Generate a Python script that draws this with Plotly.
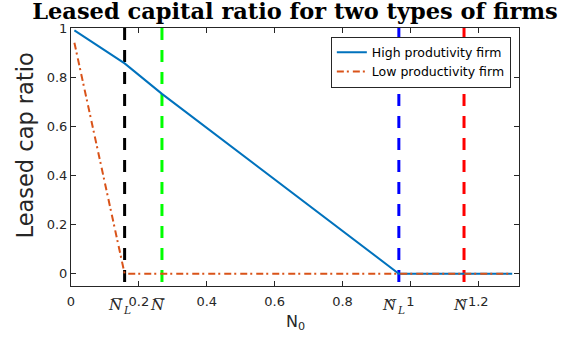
import plotly.graph_objects as go

# ---- data ----
x_high = [0.01, 0.158, 0.268, 0.966, 1.30]
y_high = [0.99, 0.856, 0.732, 0.0, 0.0]
x_low = [0.01, 0.158, 1.30]
y_low = [0.94, 0.0, 0.0]

vline_x = [0.158, 0.268, 0.966, 1.158]
vline_colors = ["#000000", "#00FF00", "#0000FF", "#FF0000"]
vline_sub = ["L", "", "L", ""]
vline_accent = ["bar", "bar", "hat", "hat"]

y_lim = [-0.05, 1.0]
x_lim = [0.0, 1.32]

x_ticks = [0, 0.2, 0.4, 0.6, 0.8, 1.0, 1.2]
x_ticktext = ["0", "0.2", "0.4", "0.6", "0.8", "1", "1.2"]
y_ticks = [0, 0.2, 0.4, 0.6, 0.8, 1]
y_ticktext = ["0", "0.2", "0.4", "0.6", "0.8", "1"]

W, H = 573, 345
L_M, R_M, T_M, B_M = 71, 54, 28, 59
plot_h = H - T_M - B_M


def py(pix):  # window pixel row -> paper y
    return (H - B_M - pix) / plot_h


fig = go.Figure()

for vx, vc in zip(vline_x, vline_colors):
    fig.add_trace(go.Scatter(
        x=[vx, vx], y=[y_lim[1], y_lim[0]], mode="lines",
        line=dict(color=vc, width=3, dash="12px,10px"),
        showlegend=False, hoverinfo="skip"))

fig.add_trace(go.Scatter(
    x=x_high, y=y_high, mode="lines", name="High produtivity firm",
    line=dict(color="#0072BD", width=2)))
fig.add_trace(go.Scatter(
    x=x_low, y=y_low, mode="lines", name="Low productivity firm",
    line=dict(color="#D95319", width=2, dash="7px,3px,2px,4px")))

axis_common = dict(
    showgrid=False, zeroline=False, showline=True, linecolor="#262626",
    linewidth=1, mirror="ticks", ticks="inside", ticklen=5, tickcolor="#262626",
    tickangle=0,
    tickfont=dict(family="DejaVu Sans", size=13, color="#262626"),
)

annotations = [
    dict(text="Leased cap ratio", textangle=-90, x=(24 - L_M) / (W - L_M - R_M),
         y=py(145.5), xref="paper", yref="paper",
         xanchor="center", yanchor="middle", showarrow=False,
         font=dict(family="DejaVu Sans", size=22.5, color="#262626")),
    dict(text="N<sub>0</sub>", x=0.5, y=py(322),
         xref="paper", yref="paper", xanchor="center", yanchor="middle",
         showarrow=False,
         font=dict(family="DejaVu Sans", size=16, color="#262626")),
]

serif = "DejaVu Serif"
for vx, sub, acc in zip(vline_x, vline_sub, vline_accent):
    nshift = -9 if sub else -4
    annotations.append(dict(
        text="<i>N</i>", x=vx, xref="x", y=py(305), yref="paper",
        xanchor="center", yanchor="middle", xshift=nshift, showarrow=False,
        font=dict(family=serif, size=15, color="#262626")))
    if sub:
        annotations.append(dict(
            text="<i>" + sub + "</i>", x=vx, xref="x", y=py(310), yref="paper",
            xanchor="left", yanchor="middle", xshift=nshift + 5.5,
            showarrow=False, font=dict(family=serif, size=10.5, color="#262626")))
    if acc == "bar":
        annotations.append(dict(
            text="\u2014", x=vx, xref="x", y=py(297.5), yref="paper",
            xanchor="center", yanchor="middle", xshift=nshift + 1.5,
            showarrow=False, font=dict(family="DejaVu Sans", size=11, color="#262626")))
    else:
        annotations.append(dict(
            text="^", x=vx, xref="x", y=py(303), yref="paper",
            xanchor="center", yanchor="middle", xshift=nshift + 1.5,
            showarrow=False, font=dict(family="DejaVu Sans", size=10, color="#262626")))

fig.update_layout(
    width=W, height=H,
    margin=dict(l=L_M, r=R_M, t=T_M, b=B_M),
    paper_bgcolor="white", plot_bgcolor="white",
    title=dict(text="<b>Leased capital ratio for two types of firms</b>",
               font=dict(family="DejaVu Serif", size=22.5, color="#000000"),
               x=0.5, xref="paper", xanchor="center",
               y=1 - 11 / H, yref="container", yanchor="middle"),
    xaxis=dict(range=x_lim, tickmode="array", tickvals=x_ticks,
               ticktext=x_ticktext, ticklabelstandoff=3, **axis_common),
    yaxis=dict(range=y_lim, tickmode="array", tickvals=y_ticks,
               ticktext=y_ticktext, **axis_common),
    legend=dict(x=0.58, y=0.967, xanchor="left", yanchor="top",
                bgcolor="white", bordercolor="#262626", borderwidth=1,
                font=dict(family="DejaVu Sans", size=12.5, color="#000000")),
    annotations=annotations,
)

fig.write_html("out.html", config={"displayModeBar": False},
               post_script="document.body.style.margin='0';")
